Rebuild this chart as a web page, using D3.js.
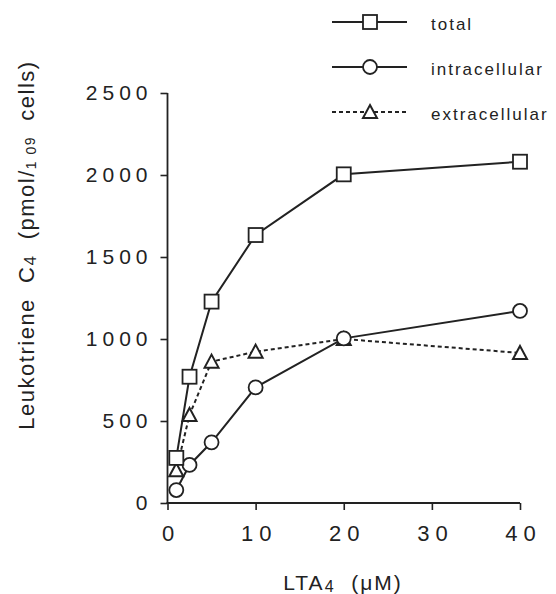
<!DOCTYPE html>
<html>
<head>
<meta charset="utf-8">
<script src="https://d3js.org/d3.v7.min.js"></script>
<style>
  body { margin: 0; background: #fff; }
  svg text { font-family: "Liberation Sans", Arial, sans-serif; fill: #222; white-space: pre; }
</style>
</head>
<body>
<svg id="chart" width="556" height="594"></svg>
<script>
// data
const lta4 = [1, 2.5, 5, 10, 20, 40];
const total = [275, 770, 1228, 1634, 2004, 2081];
const intracellular = [79, 232, 370, 705, 1004, 1171];
const extracellular = [200, 537, 862, 923, 1000, 915];
const xTicks = [0, 10, 20, 30, 40];
const yTicks = [0, 500, 1000, 1500, 2000, 2500];

const series = [
  { name: "total", values: total, marker: "square", dash: null },
  { name: "intracellular", values: intracellular, marker: "circle", dash: null },
  { name: "extracellular", values: extracellular, marker: "triangle", dash: "4,3" }
];

const svg = d3.select("#chart");
const ink = "#222";
const font = "'Liberation Sans', Arial, sans-serif";

const x = d3.scaleLinear().domain([0, 40]).range([167.5, 520]);
const y = d3.scaleLinear().domain([0, 2500]).range([503, 93]);

// axes
const xAxis = svg.append("g")
    .attr("transform", `translate(0, ${y(0)})`)
    .call(d3.axisBottom(x).tickValues(xTicks).tickFormat(d3.format("d"))
      .tickSize(7).tickPadding(15).tickSizeOuter(0));
const yAxis = svg.append("g")
    .attr("transform", `translate(${x(0)}, 0)`)
    .call(d3.axisLeft(y).tickValues(yTicks).tickFormat(d3.format("d"))
      .tickSize(7).tickPadding(8).tickSizeOuter(0));

[xAxis, yAxis].forEach(g => {
  g.select(".domain").attr("stroke", ink).attr("stroke-width", 1.8);
  g.selectAll(".tick line").attr("stroke", ink).attr("stroke-width", 1.6);
  g.selectAll(".tick text")
    .attr("fill", ink)
    .style("font-family", font);
});
xAxis.selectAll(".tick text").attr("font-size", 22).attr("letter-spacing", "6px").attr("dx", "3px");
yAxis.selectAll(".tick text").attr("font-size", 21).attr("letter-spacing", "5px");
// axis lines run a touch past the corner
xAxis.select(".domain").attr("d", `M${x(0) - 1},0H${x(40)}`);
yAxis.select(".domain").attr("d", `M0,${y(0) + 1}V${y(2500)}`);

// axis titles
const xt = svg.append("text")
    .attr("x", 343).attr("y", 590)
    .attr("text-anchor", "middle")
    .attr("font-size", 21)
    .attr("letter-spacing", "2px");
xt.append("tspan").text("LTA");
xt.append("tspan").text("4").attr("font-size", 16).attr("dy", 2);
xt.append("tspan").text("  (\u03bcM)").attr("dy", -2);

const yt = svg.append("text")
    .attr("transform", "translate(34, 245) rotate(-90)")
    .attr("text-anchor", "middle")
    .attr("font-size", 22)
    .attr("letter-spacing", "1.5px");
yt.append("tspan").text("Leukotriene  C");
yt.append("tspan").text("4").attr("font-size", 17).attr("dy", 2);
yt.append("tspan").text("  (pmol/").attr("dy", -2);
yt.append("tspan").text("1 0").attr("font-size", 14).attr("dy", 2);
yt.append("tspan").text("9").attr("font-size", 14).attr("dy", -1);
yt.append("tspan").text("  cells)").attr("dy", -1);

// markers
function drawMarker(g, type, cx, cy) {
  if (type === "square") {
    g.append("rect").attr("x", cx - 7).attr("y", cy - 7).attr("width", 14).attr("height", 14)
      .attr("fill", "#fff").attr("stroke", ink).attr("stroke-width", 1.8);
  } else if (type === "circle") {
    g.append("circle").attr("cx", cx).attr("cy", cy).attr("r", 7)
      .attr("fill", "#fff").attr("stroke", ink).attr("stroke-width", 1.8);
  } else {
    g.append("path")
      .attr("d", `M${cx},${cy - 7}L${cx + 7},${cy + 6}L${cx - 7},${cy + 6}Z`)
      .attr("fill", "#fff").attr("stroke", ink).attr("stroke-width", 2);
  }
}

const line = d3.line().x(d => x(d[0])).y(d => y(d[1]));

// lines first, then markers on top
series.slice().reverse().forEach(s => {
  const pts = lta4.map((v, i) => [v, s.values[i]]);
  svg.append("path")
    .datum(pts)
    .attr("d", line)
    .attr("fill", "none")
    .attr("stroke", ink)
    .attr("stroke-width", 2)
    .attr("stroke-dasharray", s.dash);
});
series.slice().reverse().forEach(s => {
  const g = svg.append("g");
  lta4.forEach((v, i) => drawMarker(g, s.marker, x(v), y(s.values[i])));
});

// legend
const legend = svg.append("g");
series.forEach((s, i) => {
  const ly = 22 + i * 45;
  legend.append("line")
    .attr("x1", 332).attr("x2", 407).attr("y1", ly).attr("y2", ly)
    .attr("stroke", ink).attr("stroke-width", 2)
    .attr("stroke-dasharray", s.dash);
  drawMarker(legend, s.marker, 370, ly);
  legend.append("text")
    .attr("x", 431).attr("y", ly + 8)
    .attr("font-size", 17)
    .attr("letter-spacing", "2px")
    .text(s.name);
});
</script>
</body>
</html>
